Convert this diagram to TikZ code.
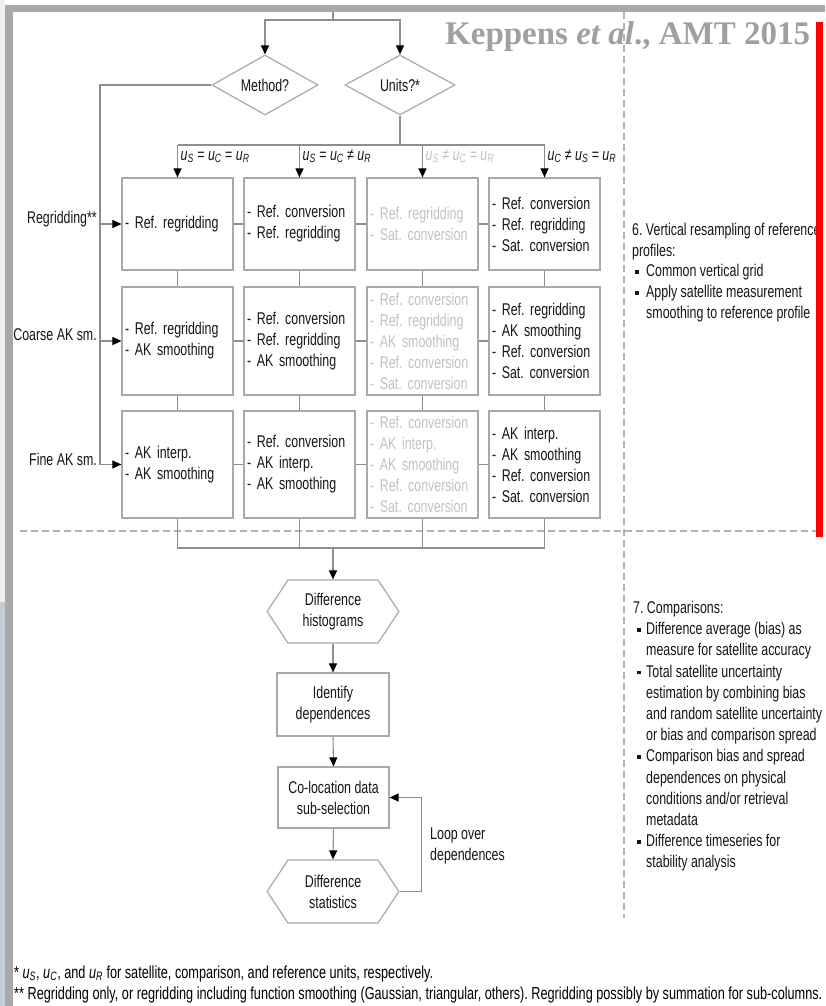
\documentclass[tikz,border=0pt]{standalone}
\usepackage{fontspec}
\setmainfont{Liberation Sans}[FakeStretch=0.73]
\newfontfamily\titlefont{Liberation Serif}
\usetikzlibrary{arrows.meta,shapes.geometric,shapes.symbols,calc}
\frenchspacing

\definecolor{framegray}{HTML}{A8A8A8}
\definecolor{stripgray}{HTML}{EEEEEE}
\definecolor{stripblue}{HTML}{C4CDD4}
\definecolor{edge}{HTML}{8E8E8E}
\definecolor{boxline}{HTML}{A9A9A9}
\definecolor{faint}{HTML}{C2C2C2}
\definecolor{dashcol}{HTML}{B4B4B4}
\definecolor{ink}{HTML}{161616}
\definecolor{titlegray}{HTML}{A0A0A0}

\newcommand{\txtfont}{\fontsize{17}{21}\selectfont}
\newcommand{\bulA}{\makebox[14pt][l]{\hspace{3pt}\raisebox{3pt}{\rule{3.5pt}{3.5pt}}}}
\newcommand{\bulB}{\makebox[13pt][l]{\hspace{4pt}\raisebox{3pt}{\rule{3.5pt}{3.5pt}}}}
\newcommand{\uu}[1]{\textit{u}\textsubscript{\textit{#1}}}

\tikzset{
  base/.style={font=\txtfont, text=ink},
  stepbox/.style={base, draw=boxline, line width=1.2pt, text width=105pt,
    inner xsep=3pt, inner ysep=0pt, align=left, minimum width=111pt},
  greybox/.style={stepbox, text=faint},
  rowA/.style={minimum height=92pt},
  rowB/.style={minimum height=108pt},
  rowC/.style={minimum height=107pt},
  flowbox/.style={base, draw=boxline, line width=1.2pt, align=center,
    minimum width=112pt, inner sep=0pt},
  hexa/.style={base, draw=boxline, line width=1.2pt, shape=signal,
    signal to=east and west, signal from=nowhere, signal pointer angle=113,
    text width=88pt, align=center, minimum height=63pt, inner xsep=1pt, inner ysep=0pt},
  decide/.style={base, draw=boxline, line width=1.2pt, diamond, aspect=1.8,
    inner sep=0pt, minimum height=60pt},
  link/.style={draw=edge, line width=1.1pt},
  arr/.style={link, -{Triangle[length=9pt, width=8pt, color=black]}},
  sepline/.style={draw=dashcol, line width=1.1pt, dash pattern=on 7pt off 4pt},
}

\begin{document}
\begin{tikzpicture}[x=1pt,y=-1pt]
\useasboundingbox (0,0) rectangle (825,1006);
\fill[white] (0,0) rectangle (825,1006);

% frame
\fill[stripgray] (0,0) rectangle (5,602);
\fill[stripblue] (0,602) rectangle (5,1006);
\fill[framegray] (5,5) rectangle (825,12);
\fill[framegray] (5,5) rectangle (13,1006);

% section separators
\draw[sepline] (20,531) -- (816,531);
\draw[sepline] (624,12) -- (624,918);

% title
\node[anchor=base west, inner sep=0pt, text=titlegray,
  font={\titlefont\bfseries\fontsize{33}{36}\selectfont}] (title) at (445,45)
  {Keppens \textit{et al}., AMT 2015};

% decisions
\node[decide, minimum width=106pt] (method) at (265,85) {Method?};
\node[decide, minimum width=110pt] (units) at (400,85) {Units?*};

% resampling grid
\node[stepbox, rowA] (b11) at (177.5,224) {- Ref. regridding};
\node[stepbox, rowA] (b21) at (299.5,224) {- Ref. conversion\\- Ref. regridding};
\node[greybox, rowA] (b31) at (422.5,224) {- Ref. regridding\\- Sat. conversion};
\node[stepbox, rowA] (b41) at (544.5,224) {- Ref. conversion\\- Ref. regridding\\- Sat. conversion};

\node[stepbox, rowB] (b12) at (177.5,341) {- Ref. regridding\\- AK smoothing};
\node[stepbox, rowB] (b22) at (299.5,341) {- Ref. conversion\\- Ref. regridding\\- AK smoothing};
\node[greybox, rowB] (b32) at (422.5,341) {- Ref. conversion\\- Ref. regridding\\- AK smoothing\\- Ref. conversion\\- Sat. conversion};
\node[stepbox, rowB] (b42) at (544.5,341) {- Ref. regridding\\- AK smoothing\\- Ref. conversion\\- Sat. conversion};

\node[stepbox, rowC] (b13) at (177.5,464.5) {- AK interp.\\- AK smoothing};
\node[stepbox, rowC] (b23) at (299.5,464.5) {- Ref. conversion\\- AK interp.\\- AK smoothing};
\node[greybox, rowC] (b33) at (422.5,464.5) {- Ref. conversion\\- AK interp.\\- AK smoothing\\- Ref. conversion\\- Sat. conversion};
\node[stepbox, rowC] (b43) at (544.5,464.5) {- AK interp.\\- AK smoothing\\- Ref. conversion\\- Sat. conversion};

% row labels
\node[base, anchor=base east, inner sep=0pt] (lab1) at (97,223.5) {Regridding**};
\node[base, anchor=base east, inner sep=0pt] (lab2) at (97,340.5) {Coarse AK sm.};
\node[base, anchor=base east, inner sep=0pt] (lab3) at (97,465.5) {Fine AK sm.};

% feed into the decisions
\coordinate (feed) at (333,12);
\coordinate (fork) at (333,20);
\draw[link] (feed) -- (fork);
\draw[arr] (fork) -| (method.north);
\draw[arr] (fork) -| (units.north);

% units branches
\coordinate (ubus) at (400,145);
\draw[link] (units.south) -- (ubus);
\draw[link] (b11.north |- ubus) -- (b41.north |- ubus);
\foreach \c in {1,...,4} \draw[arr] (b\c1.north |- ubus) -- (b\c1.north);
\node[base, anchor=base west, inner sep=0pt] (u1) at ($(b11.north |- ubus)+(3,15)$) {\uu{S} = \uu{C} = \uu{R}};
\node[base, anchor=base west, inner sep=0pt] (u2) at ($(b21.north |- ubus)+(3,15)$) {\uu{S} = \uu{C} ≠ \uu{R}};
\node[base, anchor=base west, inner sep=0pt, text=faint] (u3) at ($(b31.north |- ubus)+(3,15)$) {\uu{S} ≠ \uu{C} = \uu{R}};
\node[base, anchor=base west, inner sep=0pt] (u4) at ($(b41.north |- ubus)+(3,15)$) {\uu{C} ≠ \uu{S} = \uu{R}};

% method branches
\coordinate (rail) at (100,85);
\draw[link] (method.west) -- (rail) -- (rail |- b13.west);
\foreach \r in {1,2,3} \draw[arr] (rail |- b1\r.west) -- (b1\r.west);

% grid links
\foreach \r in {1,2,3} {
  \draw[link] (b1\r.east) -- (b2\r.west);
  \draw[link] (b2\r.east) -- (b3\r.west);
  \draw[link] (b3\r.east) -- (b4\r.west);
}
\foreach \c in {1,...,4} {
  \draw[link] (b\c1.south) -- (b\c2.north);
  \draw[link] (b\c2.south) -- (b\c3.north);
}

% collect the grid
\coordinate (join) at (333,548);
\draw[link] (b13.south) -- (b13.south |- join) -- (b43.south |- join) -- (b43.south);
\draw[link] (b23.south) -- (b23.south |- join);
\draw[link] (b33.south) -- (b33.south |- join);

% comparison flow
\node[hexa] (hist) at (333,611.5) {Difference\\histograms};
\node[flowbox, minimum height=63pt] (ident) at (333,704.5) {Identify\\dependences};
\node[flowbox, minimum height=61pt, minimum width=111pt] (coloc) at (333.5,797.5) {Co-location data\\sub-selection};
\node[hexa] (stats) at (333,891.5) {Difference\\statistics};
\draw[arr] (join) -- (hist.north);
\draw[arr] (hist.south) -- (ident.north);
\draw[arr] (ident.south) -- (coloc.north);
\draw[arr] (coloc.south) -- (stats.north);
\draw[arr] (stats.east) -- ++(22,0) |- (coloc.east);
\node[base, anchor=west, align=left, inner sep=0pt] (loop) at (430,846) {Loop over\\dependences};

% step descriptions
\node[base, anchor=north west, align=left, inner sep=0pt,
  font={\fontsize{17}{20.7}\selectfont}] (step6) at (632,223)
  {6. Vertical resampling of reference\\profiles:\\\bulA Common vertical grid\\\bulA Apply satellite measurement\\\hspace*{14pt}smoothing to reference profile};

\node[base, anchor=north west, align=left, inner sep=0pt,
  font={\fontsize{17}{21.2}\selectfont}] (step7) at (633,601)
  {7. Comparisons:\\
   \bulB Difference average (bias) as\\
   \hspace*{13pt}measure for satellite accuracy\\
   \bulB Total satellite uncertainty\\
   \hspace*{13pt}estimation by combining bias\\
   \hspace*{13pt}and random satellite uncertainty\\
   \hspace*{13pt}or bias and comparison spread\\
   \bulB Comparison bias and spread\\
   \hspace*{13pt}dependences on physical\\
   \hspace*{13pt}conditions and/or retrieval\\
   \hspace*{13pt}metadata\\
   \bulB Difference timeseries for\\
   \hspace*{13pt}stability analysis};

% footnotes
\node[base, anchor=base west, inner sep=0pt, text=black,
  font={\fontsize{17.4}{21}\selectfont}] (fn1) at (14,978)
  {* \uu{S}, \uu{C}, and \uu{R} for satellite, comparison, and reference units, respectively.};
\node[base, anchor=base west, inner sep=0pt, text=black,
  font={\fontsize{17.4}{21}\selectfont}] (fn2) at (14,999)
  {** Regridding only, or regridding including function smoothing (Gaussian, triangular, others). Regridding possibly by summation for sub-columns.};

% red margin bar
\fill[red] (816,22) rectangle (823,537);
\end{tikzpicture}
\end{document}
